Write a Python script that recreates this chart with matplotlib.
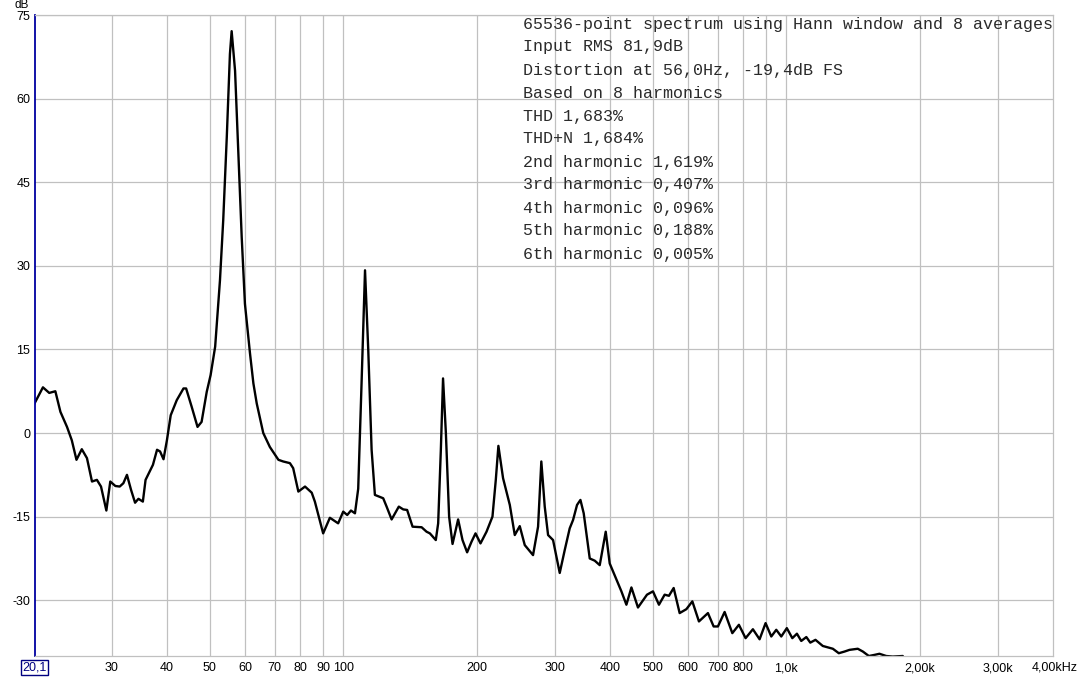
import matplotlib
matplotlib.use("Agg")
import matplotlib.pyplot as plt
from matplotlib.ticker import NullLocator, FixedLocator, FixedFormatter

# spectrum: frequency (Hz) and level (dB)
freq = [20.1, 21.0, 21.7, 22.4, 23.0, 23.8, 24.4, 25.0, 25.7, 26.4,
        27.1, 27.8, 28.4, 29.2, 29.8, 30.6, 31.3, 31.9, 32.5, 33.2,
        33.9, 34.5, 35.3, 35.8, 37.2, 38.0, 38.6, 39.3, 40.0, 40.8,
        42.1, 43.6, 44.2, 45.5, 46.9, 47.9, 49.2, 50.2, 51.4, 52.7,
        53.6, 54.6, 55.5, 56.0, 57.0, 58.0, 59.0, 60.0, 61.6, 62.7,
        63.8, 64.3, 66.0, 68.3, 71.4, 73.2, 75.8, 77.1, 79.2, 82.0,
        84.9, 86.3, 90.1, 93.3, 97.4, 100.0, 102.1, 104.1, 106.3, 108.1,
        110.0, 112.0, 113.9, 115.9, 117.9, 123.1, 125.3, 128.6, 133.5, 136.6,
        139.4, 143.4, 150.3, 154.2, 156.9, 161.8, 163.8, 166.1, 168.0, 170.5,
        173.4, 176.5, 181.7, 185.9, 190.4, 194.8, 198.9, 204.1, 210.6, 217.2,
        221.0, 224.0, 229.5, 237.7, 243.9, 250.3, 256.9, 268.2, 275.3, 280.0,
        285.0, 290.0, 297.6, 308.1, 316.2, 324.5, 330.2, 337.1, 343.1, 349.0,
        360.1, 369.6, 379.3, 391.3, 399.5, 413.7, 424.5, 435.7, 447.2, 462.7,
        484.9, 500.2, 516.0, 531.5, 543.5, 557.0, 574.6, 595.0, 613.8, 635.2,
        665.6, 685.6, 701.1, 725.9, 755.5, 781.8, 809.5, 840.8, 870.6, 898.1,
        925.1, 949.4, 974.4, 1003, 1032, 1057, 1081, 1110, 1133, 1164,
        1209, 1274, 1314, 1354, 1389, 1450, 1489, 1536, 1582, 1623,
        1681, 1739, 1832, 1850]
level = [5.3, 8.2, 7.2, 7.5, 3.8, 1.1, -1.3, -4.8, -2.9, -4.5,
         -8.7, -8.4, -9.6, -13.9, -8.7, -9.5, -9.6, -9.0, -7.5, -10.2,
         -12.5, -11.8, -12.3, -8.4, -5.7, -3.0, -3.3, -4.7, -1.3, 3.2,
         5.9, 8.0, 8.0, 4.7, 1.1, 2.0, 7.4, 10.4, 15.5, 27.4,
         38.2, 53.1, 68.0, 72.1, 65.0, 50.1, 35.2, 23.2, 14.3, 8.9,
         5.3, 4.1, 0.0, -2.5, -4.8, -5.1, -5.4, -6.3, -10.5, -9.6,
         -10.7, -12.3, -18.0, -15.2, -16.2, -14.1, -14.7, -13.9, -14.4, -10.0,
         8.9, 29.2, 14.9, -3.0, -11.1, -11.7, -13.2, -15.5, -13.2, -13.7,
         -13.8, -16.8, -16.9, -17.7, -18.0, -19.2, -16.2, -3.0, 9.8, 0.0,
         -15.0, -19.9, -15.5, -19.2, -21.4, -19.5, -18.0, -19.8, -17.7, -15.0,
         -8.4, -2.3, -8.1, -12.9, -18.3, -16.7, -20.1, -21.9, -16.8, -5.1,
         -13.2, -18.3, -19.2, -25.1, -21.0, -17.1, -15.6, -12.9, -12.0, -14.4,
         -22.5, -22.9, -23.7, -17.7, -23.4, -26.3, -28.4, -30.8, -27.7, -31.3,
         -29.0, -28.4, -30.8, -29.0, -29.2, -27.8, -32.3, -31.6, -30.2, -33.8,
         -32.3, -34.7, -34.7, -32.1, -35.9, -34.4, -36.8, -35.2, -37.0, -34.1,
         -36.5, -35.3, -36.5, -35.0, -36.8, -36.0, -37.3, -36.6, -37.6, -37.1,
         -38.2, -38.7, -39.5, -39.2, -38.9, -38.7, -39.2, -40.0, -39.8, -39.6,
         -40.0, -40.1, -40.0, -41.0]

grid_freqs = [30, 40, 50, 60, 70, 80, 90, 100, 200, 300, 400, 500,
              600, 700, 800, 900, 1000, 2000, 3000]
grid_labels = ["30", "40", "50", "60", "70", "80", "90", "100", "200", "300",
               "400", "500", "600", "700", "800", "", "1,0k", "2,00k", "3,00k"]
db_ticks = [75, 60, 45, 30, 15, 0, -15, -30]

info_lines = [
    "65536-point spectrum using Hann window and 8 averages",
    "Input RMS 81,9dB",
    "Distortion at 56,0Hz, -19,4dB FS",
    "Based on 8 harmonics",
    "THD 1,683%",
    "THD+N 1,684%",
    "2nd harmonic 1,619%",
    "3rd harmonic 0,407%",
    "4th harmonic 0,096%",
    "5th harmonic 0,188%",
    "6th harmonic 0,005%",
]

plt.rcParams["font.family"] = ["Liberation Sans", "DejaVu Sans"]

W, H = 1086, 679
fig = plt.figure(figsize=(W / 100, H / 100), dpi=100)
ax = fig.add_axes([34.5 / W, 23 / H, 1018.5 / W, 641 / H])
ax.set_xscale("log")
ax.set_xlim(20.1, 4000)
ax.set_ylim(-40, 75)

ax.plot(freq, level, color="black", lw=1.7, solid_joinstyle="round")

ax.xaxis.set_major_locator(FixedLocator(grid_freqs))
ax.xaxis.set_major_formatter(FixedFormatter(grid_labels))
ax.xaxis.set_minor_locator(NullLocator())
ax.set_yticks(db_ticks)
ax.set_yticklabels([str(v) for v in db_ticks])
ax.set_axisbelow(True)
ax.grid(True, color="#c0c0c0", lw=0.9)
ax.tick_params(length=0, labelsize=9, colors="black")
ax.tick_params(axis="x", pad=4.5)
ax.tick_params(axis="y", pad=3)

for side in ["top", "right", "bottom"]:
    ax.spines[side].set_color("#c0c0c0")
    ax.spines[side].set_linewidth(0.9)
ax.spines["left"].set_color("#0000a0")
ax.spines["left"].set_linewidth(1.3)

# start frequency in a box, end frequency with unit
ax.annotate("20,1", xy=(20.1, -40), xytext=(0, -8.5), textcoords="offset points",
            ha="center", va="center", fontsize=9, color="#000080",
            bbox=dict(boxstyle="square,pad=0.12", fc="white", ec="#000080", lw=1))
ax.annotate("4,00kHz", xy=(4000, -40), xytext=(1, -8.5), textcoords="offset points",
            ha="center", va="center", fontsize=9, color="black",
            annotation_clip=False)
ax.annotate("dB", xy=(20.1, 75), xytext=(-9, 5.3), textcoords="offset points",
            ha="center", va="baseline", fontsize=8.5, color="black",
            annotation_clip=False)

for i, line in enumerate(info_lines):
    fig.text(523 / W, 1 - (24 + 23 * i) / H, line, family="Liberation Mono",
             fontsize=12, va="center", ha="left", color="#2a2a2a")

fig.savefig("out.png", dpi=100)
